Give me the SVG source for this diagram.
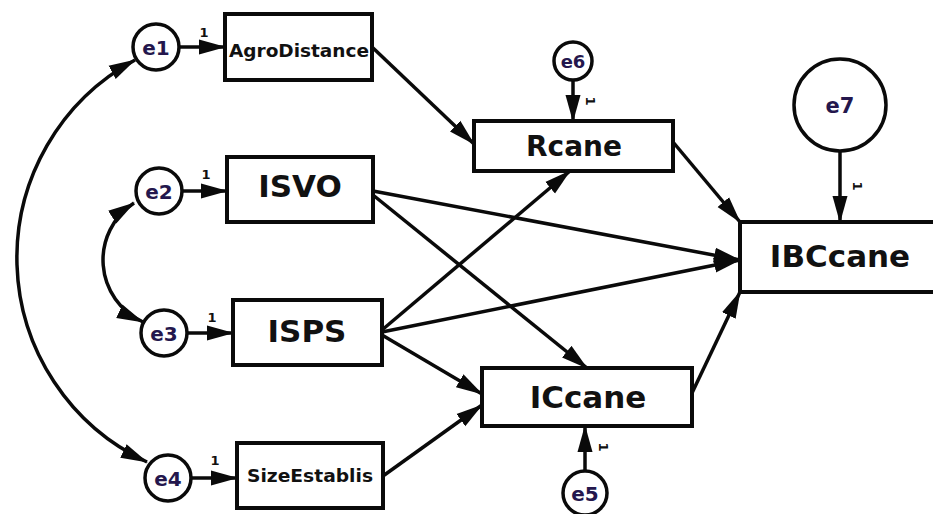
<svg xmlns="http://www.w3.org/2000/svg" width="933" height="514" viewBox="0 0 933 514">
<style>
.bg{fill:#ffffff}
.box{fill:#ffffff;stroke:#0a0a0a;stroke-width:4}
.err{fill:#ffffff;stroke:#0a0a0a;stroke-width:3.5}
.ln{fill:none;stroke:#0a0a0a;stroke-width:3.5}
.lbl{font-family:"DejaVu Sans",Verdana,sans-serif;font-weight:bold;fill:#111111;text-anchor:middle}
.elbl{font-family:"DejaVu Sans",Verdana,sans-serif;font-weight:bold;fill:#24174d;text-anchor:middle}
.one{font-family:"DejaVu Sans",Verdana,sans-serif;font-weight:bold;fill:#111111;font-size:13px;text-anchor:middle}
</style>
<defs>
<marker id="ah" markerUnits="userSpaceOnUse" markerWidth="28" markerHeight="16" refX="26" refY="8" orient="auto-start-reverse" viewBox="0 0 28 16">
<path d="M0,0.5 L27,8 L0,15.5 Z" fill="#0a0a0a"/>
</marker>
</defs>
<rect class="bg" x="0" y="0" width="933" height="514"/>

<g id="connectors">
<path class="ln" d="M135,60 A225,225 0 0 0 147,462" marker-start="url(#ah)" marker-end="url(#ah)"/>
<path class="ln" d="M134,203 A68,68 0 0 0 143,322" marker-start="url(#ah)" marker-end="url(#ah)"/>
<line class="ln" x1="180" y1="47" x2="225" y2="47" marker-end="url(#ah)"/>
<line class="ln" x1="182" y1="191" x2="227" y2="191" marker-end="url(#ah)"/>
<line class="ln" x1="187" y1="333" x2="233" y2="333" marker-end="url(#ah)"/>
<line class="ln" x1="191" y1="478" x2="237" y2="478" marker-end="url(#ah)"/>
<line class="ln" x1="573" y1="80" x2="573" y2="121" marker-end="url(#ah)"/>
<line class="ln" x1="840" y1="151" x2="840" y2="222" marker-end="url(#ah)"/>
<line class="ln" x1="585" y1="471" x2="585" y2="426" marker-end="url(#ah)"/>
<line class="ln" x1="372" y1="47" x2="474" y2="144" marker-end="url(#ah)"/>
<line class="ln" x1="373" y1="191" x2="740" y2="260" marker-end="url(#ah)"/>
<line class="ln" x1="373" y1="195" x2="587" y2="368" marker-end="url(#ah)"/>
<line class="ln" x1="382" y1="330" x2="570" y2="171" marker-end="url(#ah)"/>
<line class="ln" x1="382" y1="332" x2="740" y2="260" marker-end="url(#ah)"/>
<line class="ln" x1="382" y1="335" x2="482" y2="394" marker-end="url(#ah)"/>
<line class="ln" x1="383" y1="476" x2="482" y2="405" marker-end="url(#ah)"/>
<line class="ln" x1="673" y1="142" x2="740" y2="222" marker-end="url(#ah)"/>
<line class="ln" x1="692" y1="393" x2="740" y2="292" marker-end="url(#ah)"/>
<text class="one" x="204" y="37">1</text>
<text class="one" x="206" y="179">1</text>
<text class="one" x="212" y="322">1</text>
<text class="one" x="215" y="465">1</text>
<text class="one" transform="translate(590,101) rotate(90)" x="0" y="4">1</text>
<text class="one" transform="translate(857,186) rotate(90)" x="0" y="4">1</text>
<text class="one" transform="translate(603,447) rotate(90)" x="0" y="4">1</text>
</g>

<g id="AgroDistance"><rect class="box" x="225" y="14" width="147" height="66"/><text class="lbl" x="299" y="57" font-size="18" textLength="140" lengthAdjust="spacingAndGlyphs">AgroDistance</text></g>
<g id="ISVO"><rect class="box" x="227" y="157" width="146" height="65"/><text class="lbl" x="300" y="197" font-size="31">ISVO</text></g>
<g id="ISPS"><rect class="box" x="233" y="300" width="149" height="65"/><text class="lbl" x="307" y="342" font-size="31">ISPS</text></g>
<g id="SizeEstablis"><rect class="box" x="237" y="443" width="146" height="65"/><text class="lbl" x="310" y="482" font-size="18" textLength="126" lengthAdjust="spacingAndGlyphs">SizeEstablis</text></g>
<g id="Rcane"><rect class="box" x="474" y="121" width="199" height="50"/><text class="lbl" x="574" y="156" font-size="28">Rcane</text></g>
<g id="ICcane"><rect class="box" x="482" y="368" width="210" height="58"/><text class="lbl" x="588" y="408" font-size="31">ICcane</text></g>
<g id="IBCcane"><rect class="box" x="740" y="222" width="220" height="70"/><text class="lbl" x="840" y="267" font-size="31">IBCcane</text></g>

<g id="e1"><circle class="err" cx="156" cy="47" r="23"/><text class="elbl" x="156" y="55" font-size="20">e1</text></g>
<g id="e2"><circle class="err" cx="159" cy="191" r="23"/><text class="elbl" x="159" y="199" font-size="20">e2</text></g>
<g id="e3"><circle class="err" cx="164" cy="333" r="23"/><text class="elbl" x="164" y="341" font-size="20">e3</text></g>
<g id="e4"><circle class="err" cx="168" cy="478" r="23"/><text class="elbl" x="168" y="486" font-size="20">e4</text></g>
<g id="e5"><circle class="err" cx="585" cy="493" r="22"/><text class="elbl" x="585" y="501" font-size="20">e5</text></g>
<g id="e6"><circle class="err" cx="573" cy="61" r="19"/><text class="elbl" x="573" y="68" font-size="18">e6</text></g>
<g id="e7"><circle class="err" cx="840" cy="105" r="46"/><text class="elbl" x="840" y="113" font-size="21">e7</text></g>
</svg>
